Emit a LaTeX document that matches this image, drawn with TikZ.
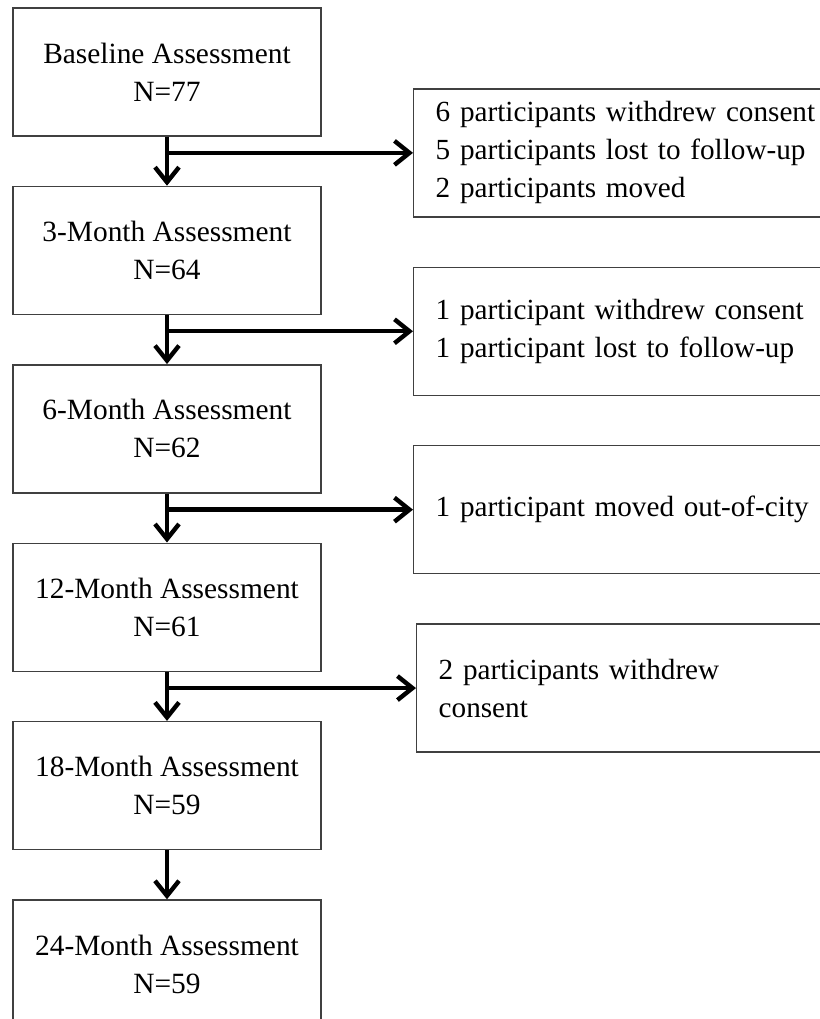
\documentclass[tikz,border=0pt]{standalone}
\usepackage{fontspec}
\setmainfont{Liberation Serif}
\usepackage{xcolor}
\usetikzlibrary{arrows.meta,positioning,calc}
\definecolor{boxgray}{HTML}{404040}
\tikzset{
  stage/.style={draw=boxgray,line width=0.7pt,minimum width=154pt,
    minimum height=64pt,inner sep=0pt,align=center,
    font=\fontsize{14.7}{19}\selectfont},
  lossbox/.style={draw=boxgray,line width=0.7pt,minimum height=64pt,
    text width=200pt,inner xsep=11pt,inner ysep=0pt,align=left,
    font=\fontsize{14.6}{19}\selectfont,anchor=west},
  flowarrow/.style={-{Straight Barb[length=7.5pt,width=12pt]},line width=2.2pt,draw=black}
}

\begin{document}
\begin{tikzpicture}[node distance=24.5pt]
\useasboundingbox (-83.5pt,36pt) rectangle (326.5pt,-473.5pt);
\clip (-83.5pt,36pt) rectangle (326.5pt,-473.5pt);

% assessment chain
\node[stage] (base) at (0,0) {Baseline Assessment\\N=77};
\node[stage, below=of base] (m3) {3-Month Assessment\\N=64};
\node[stage, below=of m3] (m6) {6-Month Assessment\\N=62};
\node[stage, below=of m6] (m12) {12-Month Assessment\\N=61};
\node[stage, below=of m12] (m18) {18-Month Assessment\\N=59};
\node[stage, below=of m18] (m24) {24-Month Assessment\\N=59};

\draw[flowarrow] (base) -- (m3);
\draw[flowarrow] (m3) -- (m6);
\draw[flowarrow] (m6) -- (m12);
\draw[flowarrow] (m12) -- (m18);
\draw[flowarrow] (m18) -- (m24);

% drop-outs
\coordinate (b1) at ($(base.south)!0.33!(m3.north)$);
\coordinate (b2) at ($(m3.south)!0.33!(m6.north)$);
\coordinate (b3) at ($(m6.south)!0.33!(m12.north)$);
\coordinate (b4) at ($(m12.south)!0.33!(m18.north)$);

\node[lossbox] (loss1) at ($(b1)+(123pt,0)$) {6 participants withdrew consent\\5 participants lost to follow-up\\2 participants moved};
\node[lossbox] (loss2) at ($(b2)+(123pt,0)$) {1 participant withdrew consent\\1 participant lost to follow-up};
\node[lossbox] (loss3) at ($(b3)+(123pt,0)$) {1 participant moved out-of-city};
\node[lossbox] (loss4) at ($(b4)+(124.5pt,0)$) {2 participants withdrew\\consent};

\draw[flowarrow] (b1) -- (loss1);
\draw[flowarrow] (b2) -- (loss2);
\draw[flowarrow] (b3) -- (loss3);
\draw[flowarrow] (b4) -- (loss4);
\end{tikzpicture}
\end{document}
